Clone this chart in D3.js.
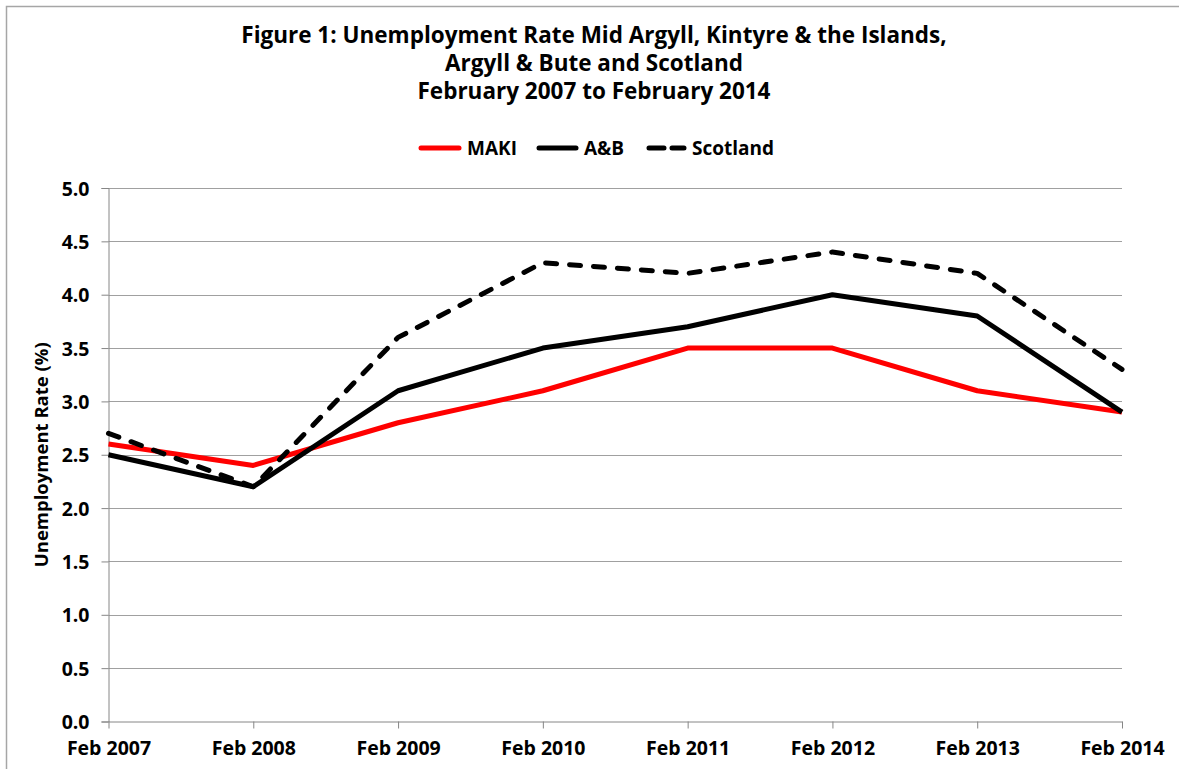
<!DOCTYPE html>
<html>
<head>
<meta charset="utf-8">
<script src="https://cdn.jsdelivr.net/npm/d3@7"></script>
<style>
  body { margin: 0; background: #fff; }
  text { font-family: "Open Sans", Lato, sans-serif; font-weight: bold; fill: #000; }
</style>
</head>
<body>
<div id="chart"></div>
<script>
// Data
const periods = ["Feb 2007", "Feb 2008", "Feb 2009", "Feb 2010", "Feb 2011", "Feb 2012", "Feb 2013", "Feb 2014"];
const makiRates = [2.6, 2.4, 2.8, 3.1, 3.5, 3.5, 3.1, 2.9];
const abRates = [2.5, 2.2, 3.1, 3.5, 3.7, 4.0, 3.8, 2.9];
const scotlandRates = [2.7, 2.2, 3.6, 4.3, 4.2, 4.4, 4.2, 3.3];
const yTicks = [0, 0.5, 1, 1.5, 2, 2.5, 3, 3.5, 4, 4.5, 5];
const titleLines = [
    "Figure 1: Unemployment Rate Mid Argyll, Kintyre & the Islands,",
    "Argyll & Bute and Scotland",
    "February 2007 to February 2014"
];

const width = 1179;
const height = 769;
const margin = { left: 108.5, right: 1122, top: 188, bottom: 721.5 };

const svg = d3.select('#chart')
    .append('svg')
    .attr('width', width)
    .attr('height', height);

// chart frame (only top/left edges visible in the original crop)
svg.append('rect')
    .attr('x', 6.5).attr('y', 6.5)
    .attr('width', width + 20).attr('height', height + 20)
    .attr('fill', 'none')
    .attr('stroke', '#a6a6a6')
    .attr('stroke-width', 1.5);

const x = d3.scalePoint()
    .domain(periods)
    .range([margin.left, margin.right]);

const y = d3.scaleLinear()
    .domain([0, 5])
    .range([margin.bottom, margin.top]);

// gridlines
svg.append('g')
    .selectAll('line')
    .data(yTicks.filter(d => d > 0))
    .join('line')
    .attr('x1', margin.left)
    .attr('x2', margin.right)
    .attr('y1', d => Math.round(y(d)) + 0.5)
    .attr('y2', d => Math.round(y(d)) + 0.5)
    .attr('stroke', '#a0a0a0')
    .attr('stroke-width', 1);

// y axis
const yAxis = svg.append('g')
    .attr('transform', `translate(${margin.left},0)`)
    .call(d3.axisLeft(y).tickValues(yTicks).tickFormat(d3.format('.1f')).tickSize(7).tickPadding(12));
yAxis.select('.domain').attr('stroke', '#868686');
yAxis.selectAll('.tick line').attr('stroke', '#868686');
yAxis.selectAll('.tick text')
    .style('font-size', '19.5px')
    .attr('dy', '0.36em');

// x axis
const xAxis = svg.append('g')
    .attr('transform', `translate(0,${margin.bottom})`)
    .call(d3.axisBottom(x).tickSize(7).tickSizeOuter(0).tickPadding(9));
xAxis.select('.domain').attr('stroke', '#868686');
xAxis.selectAll('.tick line').attr('stroke', '#868686');
xAxis.selectAll('.tick text')
    .style('font-size', '19.5px')
    .attr('dy', '0.9em');
svg.selectAll('.tick text').attr('fill', '#000');
svg.selectAll('g').attr('font-family', null);

// lines
const line = d3.line()
    .x((d, i) => x(periods[i]))
    .y(d => y(d));

const series = [
    { name: 'MAKI', values: makiRates, color: '#ff0000', dash: null },
    { name: 'A&B', values: abRates, color: '#000000', dash: null },
    { name: 'Scotland', values: scotlandRates, color: '#000000', dash: '11,13' }
];

series.forEach(s => {
    svg.append('path')
        .datum(s.values)
        .attr('d', line)
        .attr('fill', 'none')
        .attr('stroke', s.color)
        .attr('stroke-width', 5)
        .attr('stroke-linejoin', 'round')
        .attr('stroke-linecap', s.dash ? 'round' : 'butt')
        .attr('stroke-dasharray', s.dash);
});

// title
svg.append('g')
    .selectAll('text')
    .data(titleLines)
    .join('text')
    .attr('x', 594)
    .attr('y', (d, i) => 43 + i * 28)
    .attr('text-anchor', 'middle')
    .style('font-size', '22.5px')
    .text(d => d);

// legend
const legendItems = [
    { x: 419, tx: 467 },
    { x: 537, tx: 584 },
    { x: 647, tx: 692 }
];
const legend = svg.append('g');
series.forEach((s, i) => {
    const p = legendItems[i];
    legend.append('line')
        .attr('x1', p.x + 2).attr('x2', p.tx - 8)
        .attr('y1', 148).attr('y2', 148)
        .attr('stroke', s.color)
        .attr('stroke-width', 5)
        .attr('stroke-linecap', 'round')
        .attr('stroke-dasharray', s.dash ? '15,8' : null);
    legend.append('text')
        .attr('x', p.tx)
        .attr('y', 155)
        .style('font-size', '19px')
        .text(s.name);
});

// y axis title
svg.append('text')
    .attr('transform', `translate(48,${(margin.top + margin.bottom) / 2}) rotate(-90)`)
    .attr('text-anchor', 'middle')
    .style('font-size', '18.5px')
    .text('Unemployment Rate (%)');
</script>
</body>
</html>
